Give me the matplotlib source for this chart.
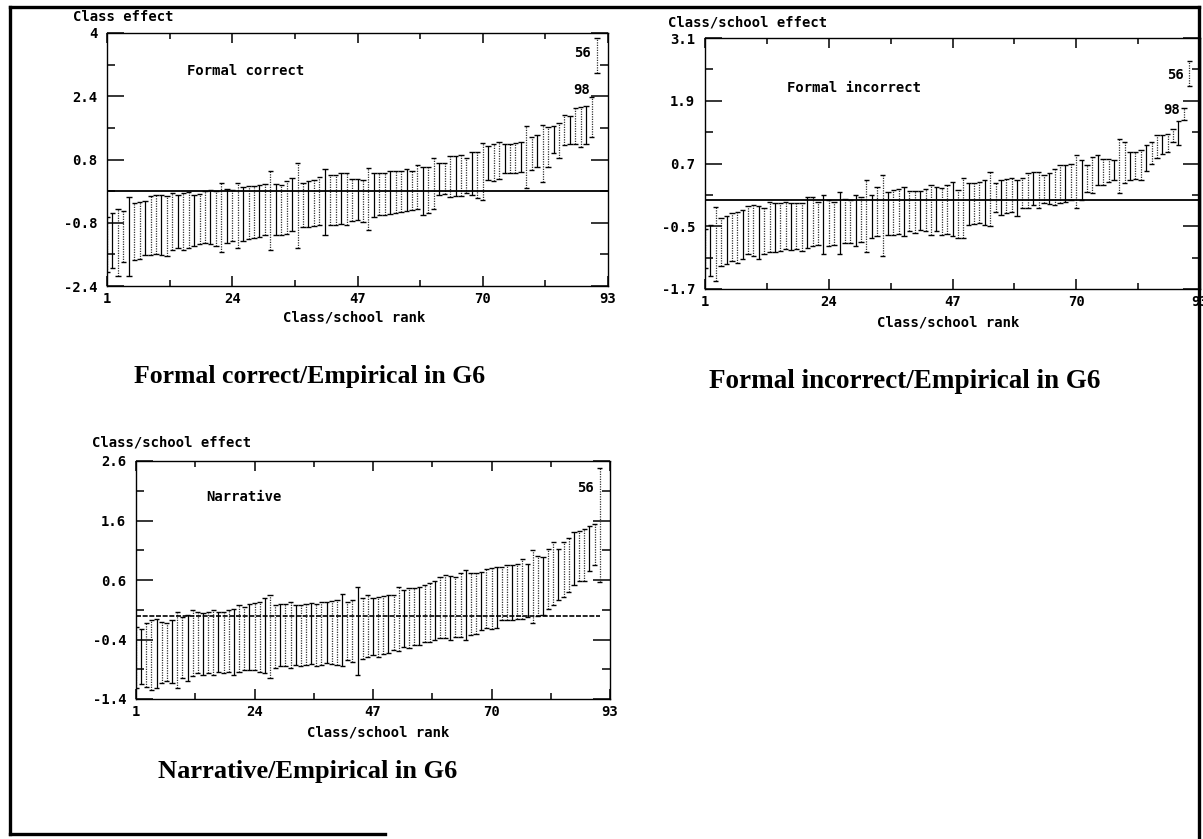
import matplotlib
matplotlib.use("Agg")
import matplotlib.pyplot as plt
from matplotlib.lines import Line2D

# class/school ranks (91 classes, axis runs 1..93)
ranks = list(range(1, 92))

# Formal correct / Empirical in G6 : upper and lower interval ends
fc_hi = [-0.66, -0.55, -0.45, -0.50, -0.15, -0.30, -0.27, -0.25, -0.13, -0.10,
         -0.10, -0.12, -0.05, -0.10, -0.05, -0.03, -0.10, -0.08, 0.00, 0.02,
         0.00, 0.20, 0.05, 0.02, 0.20, 0.10, 0.12, 0.12, 0.15, 0.18,
         0.52, 0.18, 0.15, 0.25, 0.32, 0.72, 0.20, 0.25, 0.28, 0.35,
         0.55, 0.40, 0.42, 0.45, 0.45, 0.30, 0.30, 0.28, 0.58, 0.45,
         0.45, 0.45, 0.50, 0.52, 0.52, 0.55, 0.52, 0.66, 0.60, 0.62,
         0.83, 0.70, 0.72, 0.90, 0.90, 0.92, 0.85, 1.00, 1.00, 1.21,
         1.13, 1.20, 1.25, 1.20, 1.20, 1.22, 1.25, 1.65, 1.38, 1.42,
         1.68, 1.62, 1.64, 1.72, 1.93, 1.90, 2.10, 2.13, 2.15, 2.38,
         3.87]
fc_lo = [-2.05, -1.95, -2.15, -1.80, -2.15, -1.75, -1.72, -1.62, -1.62, -1.60,
         -1.62, -1.65, -1.50, -1.45, -1.50, -1.45, -1.40, -1.35, -1.32, -1.35,
         -1.40, -1.55, -1.30, -1.25, -1.45, -1.25, -1.20, -1.18, -1.15, -1.10,
         -1.48, -1.10, -1.10, -1.08, -1.00, -1.45, -0.90, -0.90, -0.88, -0.85,
         -1.10, -0.85, -0.85, -0.82, -0.85, -0.75, -0.72, -0.78, -0.98, -0.65,
         -0.60, -0.60, -0.58, -0.55, -0.52, -0.50, -0.47, -0.45, -0.60, -0.55,
         -0.45, -0.10, -0.08, -0.14, -0.12, -0.12, -0.05, -0.10, -0.18, -0.22,
         0.28, 0.25, 0.30, 0.45, 0.45, 0.45, 0.48, 0.07, 0.54, 0.60,
         0.24, 0.60, 0.96, 0.85, 1.17, 1.20, 1.20, 1.11, 1.20, 1.37,
         3.00]

# Formal incorrect / Empirical in G6
fi_hi = [-0.55, -0.48, -0.14, -0.34, -0.30, -0.25, -0.22, -0.18, -0.12, -0.09,
         -0.12, -0.15, -0.03, -0.05, -0.06, -0.04, -0.05, -0.06, -0.06, 0.05,
         0.05, -0.04, 0.10, 0.00, -0.03, 0.16, 0.03, 0.00, 0.10, 0.05,
         0.38, 0.10, 0.26, 0.48, 0.16, 0.20, 0.22, 0.26, 0.17, 0.18,
         0.17, 0.22, 0.29, 0.26, 0.23, 0.28, 0.35, 0.20, 0.42, 0.32,
         0.33, 0.35, 0.38, 0.54, 0.32, 0.38, 0.40, 0.42, 0.38, 0.42,
         0.51, 0.54, 0.54, 0.48, 0.52, 0.60, 0.67, 0.67, 0.70, 0.86,
         0.76, 0.67, 0.83, 0.86, 0.79, 0.79, 0.76, 1.17, 1.11, 0.92,
         0.92, 0.95, 1.05, 1.11, 1.24, 1.24, 1.27, 1.36, 1.52, 1.77,
         2.66]
fi_lo = [-1.30, -1.45, -1.54, -1.26, -1.22, -1.16, -1.20, -1.12, -1.04, -1.07,
         -1.13, -1.04, -1.00, -0.99, -0.97, -0.94, -0.95, -0.94, -0.97, -0.91,
         -0.88, -0.85, -1.04, -0.88, -0.85, -1.04, -0.82, -0.82, -0.88, -0.80,
         -1.00, -0.72, -0.69, -1.07, -0.66, -0.66, -0.64, -0.69, -0.60, -0.62,
         -0.57, -0.60, -0.66, -0.60, -0.66, -0.64, -0.69, -0.72, -0.72, -0.47,
         -0.46, -0.44, -0.47, -0.50, -0.22, -0.28, -0.25, -0.22, -0.31, -0.15,
         -0.15, -0.09, -0.15, -0.06, -0.08, -0.09, -0.06, -0.03, 0.00, -0.15,
         0.00, 0.16, 0.13, 0.29, 0.29, 0.35, 0.38, 0.13, 0.32, 0.38,
         0.41, 0.38, 0.55, 0.70, 0.80, 0.89, 0.92, 1.11, 1.05, 1.54,
         2.18]

# Narrative / Empirical in G6
nr_hi = [-0.19, -0.22, -0.13, -0.07, -0.05, -0.10, -0.12, -0.07, 0.07, -0.02,
         0.01, 0.09, 0.07, 0.05, 0.07, 0.09, 0.07, 0.07, 0.10, 0.12,
         0.18, 0.15, 0.20, 0.22, 0.23, 0.29, 0.34, 0.18, 0.20, 0.20,
         0.23, 0.18, 0.18, 0.20, 0.21, 0.20, 0.23, 0.23, 0.24, 0.26,
         0.37, 0.23, 0.26, 0.48, 0.30, 0.34, 0.29, 0.31, 0.33, 0.34,
         0.34, 0.48, 0.43, 0.46, 0.46, 0.48, 0.51, 0.55, 0.59, 0.65,
         0.68, 0.66, 0.65, 0.71, 0.76, 0.72, 0.71, 0.73, 0.79, 0.80,
         0.82, 0.82, 0.85, 0.86, 0.87, 0.96, 0.87, 1.10, 1.00, 0.98,
         1.12, 1.24, 1.12, 1.24, 1.30, 1.40, 1.43, 1.46, 1.50, 1.54,
         2.49]
nr_lo = [-1.22, -1.15, -1.19, -1.25, -1.22, -1.13, -1.10, -1.13, -1.22, -1.05,
         -1.10, -1.02, -0.97, -1.00, -0.97, -0.99, -0.94, -0.97, -0.95, -0.99,
         -0.94, -0.91, -0.91, -0.92, -0.94, -0.97, -1.05, -0.88, -0.85, -0.85,
         -0.88, -0.83, -0.85, -0.83, -0.82, -0.85, -0.83, -0.80, -0.82, -0.83,
         -0.85, -0.74, -0.77, -0.99, -0.72, -0.69, -0.66, -0.69, -0.64, -0.63,
         -0.58, -0.60, -0.52, -0.55, -0.50, -0.49, -0.44, -0.45, -0.41, -0.38,
         -0.38, -0.40, -0.35, -0.35, -0.41, -0.32, -0.30, -0.24, -0.21, -0.23,
         -0.21, -0.07, -0.07, -0.08, -0.05, -0.05, -0.02, -0.13, 0.00, 0.01,
         0.12, 0.18, 0.26, 0.31, 0.40, 0.51, 0.59, 0.59, 0.75, 0.85,
         0.57]

x_ticks = [1, 24, 47, 70, 93]
x_labels = ["1", "24", "47", "70", "93"]
fc_yticks = [4, 2.4, 0.8, -0.8, -2.4]
fc_ylabels = ["4", "2.4", "0.8", "-0.8", "-2.4"]
fi_yticks = [3.1, 1.9, 0.7, -0.5, -1.7]
fi_ylabels = ["3.1", "1.9", "0.7", "-0.5", "-1.7"]
nr_yticks = [2.6, 1.6, 0.6, -0.4, -1.4]
nr_ylabels = ["2.6", "1.6", "0.6", "-0.4", "-1.4"]

W, H = 1203, 839
fig = plt.figure(figsize=(W / 100, H / 100), dpi=100)
fig.patch.set_facecolor("white")

MONO = dict(family="DejaVu Sans Mono", weight="bold")
SERIF = dict(family="Liberation Serif", weight="bold")
FS = 10


def px_axes(l, t, r, b):
    return fig.add_axes([l / W, 1 - b / H, (r - l) / W, (b - t) / H])


def ftext(x, y, s, **kw):
    fig.text(x / W, 1 - y / H, s, **kw)


def panel(ax, hi, lo, yticks, ylabels, inner, inner_xy, zero_full=True):
    ax.set_xlim(1, 93)
    ax.set_ylim(yticks[-1], yticks[0])
    for k, (r, h, l) in enumerate(zip(ranks, hi, lo)):
        ls = "-" if k % 3 == 1 else (0, (1, 1))
        col = "black" if k % 3 == 1 else "#333333"
        ax.vlines(r, l, h, colors=col, lw=0.9, linestyles=[ls])
        ax.hlines([l, h], r - 0.5, r + 0.5, colors="black", lw=1.0)
    if zero_full:
        ax.axhline(0, color="black", lw=1.3)
    else:
        ax.hlines(0, 1, ranks[-1], colors="black", lw=1.2, linestyles=[(0, (3, 1))])

    ax.set_xticks(x_ticks)
    ax.set_xticklabels(x_labels, fontsize=FS, **MONO)
    ax.set_xticks([(a + b) / 2 for a, b in zip(x_ticks[:-1], x_ticks[1:])], minor=True)
    ax.set_yticks(yticks)
    ax.set_yticklabels(ylabels, fontsize=FS, **MONO)
    ax.set_yticks([(a + b) / 2 for a, b in zip(yticks[:-1], yticks[1:])], minor=True)
    ax.tick_params(direction="in", top=True, right=True, which="both", width=1.1)
    ax.tick_params(axis="x", which="major", length=7, pad=4)
    ax.tick_params(axis="x", which="minor", length=4)
    ax.tick_params(axis="y", which="major", length=12, pad=7)
    ax.tick_params(axis="y", which="minor", length=6)
    for sp in ax.spines.values():
        sp.set_linestyle((0, (3, 1)))
        sp.set_linewidth(1.0)
    ax.text(inner_xy[0], inner_xy[1], inner, transform=ax.transAxes,
            fontsize=FS, va="center", ha="left", **MONO)


# Formal correct
ax1 = px_axes(107, 33, 608, 286)
panel(ax1, fc_hi, fc_lo, fc_yticks, fc_ylabels, "Formal correct", (0.16, 0.85))
ax1.text(ranks[-1] - 1.2, 3.5, "56", fontsize=FS, ha="right", va="center", **MONO)
ax1.text(ranks[-2] - 0.3, 2.55, "98", fontsize=FS, ha="right", va="center", **MONO)
ftext(73, 17, "Class effect", fontsize=FS, va="center", **MONO)
ftext(354, 318, "Class/school rank", fontsize=FS, va="center", ha="center", **MONO)

# Formal incorrect
ax2 = px_axes(705, 38, 1200, 289)
panel(ax2, fi_hi, fi_lo, fi_yticks, fi_ylabels, "Formal incorrect", (0.165, 0.80))
ax2.text(ranks[-1] - 1.0, 2.4, "56", fontsize=FS, ha="right", va="center", **MONO)
ax2.text(ranks[-2] - 0.8, 1.72, "98", fontsize=FS, ha="right", va="center", **MONO)
ftext(668, 23, "Class/school effect", fontsize=FS, va="center", **MONO)
ftext(948, 323, "Class/school rank", fontsize=FS, va="center", ha="center", **MONO)

# Narrative
ax3 = px_axes(136, 461, 610, 699)
panel(ax3, nr_hi, nr_lo, nr_yticks, nr_ylabels, "Narrative", (0.148, 0.85), zero_full=False)
ax3.text(ranks[-1] - 1.2, 2.15, "56", fontsize=FS, ha="right", va="center", **MONO)
ftext(92, 443, "Class/school effect", fontsize=FS, va="center", **MONO)
ftext(378, 732, "Class/school rank", fontsize=FS, va="center", ha="center", **MONO)

# captions
ftext(134, 383, "Formal correct/Empirical in G6", fontsize=18.5, va="baseline", **SERIF)
ftext(709, 388, "Formal incorrect/Empirical in G6", fontsize=19.5, va="baseline", **SERIF)
ftext(158, 778, "Narrative/Empirical in G6", fontsize=19, va="baseline", **SERIF)

# outer frame of the scanned page (bottom edge only partly visible)
frame = [([10, 10], [7, 834]), ([10, 1199], [7, 7]), ([1199, 1199], [7, 839]),
         ([10, 385], [834, 834])]
for xs, ys in frame:
    fig.add_artist(Line2D([x / W for x in xs], [1 - y / H for y in ys],
                          lw=2.4, color="black", transform=fig.transFigure))

fig.savefig("out.png", dpi=100)
